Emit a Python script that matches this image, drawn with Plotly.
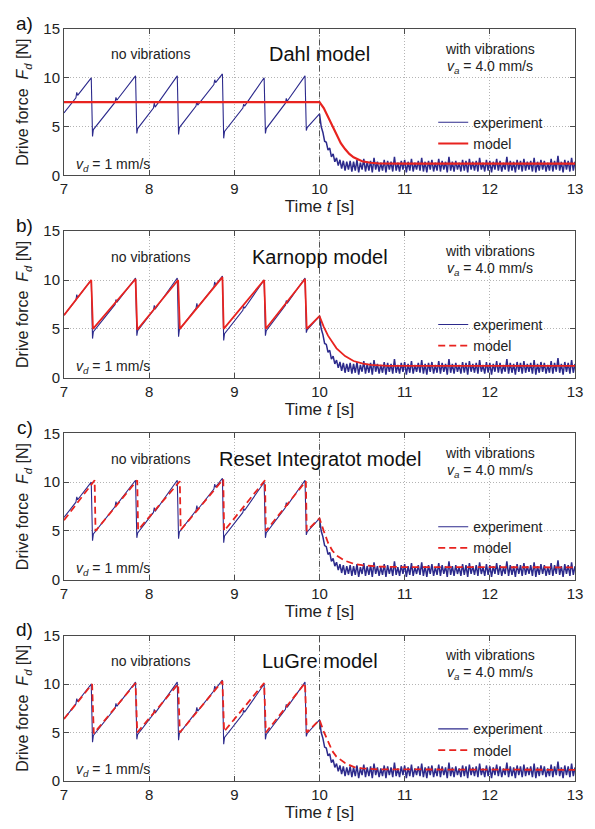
import plotly.graph_objects as go
from plotly.subplots import make_subplots

# measured drive force, sawtooth part (stick-slip, no vibrations)
exp_saw_t = [7.00, 7.14, 7.15, 7.16, 7.32, 7.335, 7.345, 7.60, 7.61, 7.62, 7.84, 7.855, 7.865,
             8.05, 8.06, 8.07, 8.33, 8.345, 8.355, 8.55, 8.56, 8.57, 8.76, 8.77, 8.78, 8.86,
             8.875, 8.885, 9.10, 9.11, 9.12, 9.35, 9.365, 9.375, 9.60, 9.61, 9.62, 9.83,
             9.845, 9.855, 10.00]
exp_saw_f = [6.4, 7.95, 8.5, 8.2, 10.0, 4.0, 4.7, 7.5, 8.0, 7.7, 10.2, 4.3, 4.8,
             6.9, 7.4, 7.0, 10.2, 4.2, 4.9, 7.1, 7.6, 7.2, 9.3, 9.8, 9.5, 10.4,
             3.8, 4.5, 6.9, 7.3, 7.1, 10.0, 4.3, 4.8, 7.4, 7.9, 7.6, 10.2,
             4.6, 4.9, 6.3]

# measured drive force with vibrations, sampled every 0.02 s from 10.00 s
exp_tail_f = [
    6.3, 5.0, 4.4, 3.5, 3.4, 2.6, 2.8, 1.9, 2.2, 1.4,
    1.8, 1.0, 1.6, 0.7, 1.5, 0.5, 1.4, 0.6, 1.5, 0.4,
    1.4, 0.5, 1.6, 0.3, 1.3, 0.6, 1.7, 0.4, 1.4, 0.5,
    1.5, 0.3, 1.8, 0.6, 1.4, 0.4, 1.3, 0.5, 1.6, 0.3,
    1.5, 0.6, 1.4, 0.4, 1.9, 0.5, 1.3, 0.4, 1.5, 0.6,
    1.6, 0.3, 1.4, 0.5, 1.7, 0.4, 1.3, 0.6, 1.5, 0.5,
    1.8, 0.4, 1.4, 0.3, 1.5, 0.6, 1.6, 0.4, 1.3, 0.5,
    1.7, 0.4, 1.5, 0.6, 1.4, 0.3, 1.9, 0.5, 1.4, 0.4,
    1.5, 0.6, 1.3, 0.4, 1.6, 0.5, 1.5, 0.3, 1.7, 0.6,
    1.4, 0.5, 1.5, 0.4, 1.8, 0.6, 1.3, 0.4, 1.6, 0.5,
    1.5, 0.3, 1.4, 0.6, 1.7, 0.5, 1.5, 0.4, 1.3, 0.6,
    1.9, 0.4, 1.5, 0.5, 1.4, 0.3, 1.6, 0.6, 1.5, 0.4,
    1.7, 0.5, 1.4, 0.6, 1.5, 0.4, 1.8, 0.3, 1.4, 0.5,
    1.6, 0.6, 1.5, 0.4, 1.3, 0.5, 1.7, 0.4, 1.5, 0.6,
    2.0, 0.5, 1.4, 0.3, 1.6, 0.6, 1.5, 0.4, 1.8, 0.5,
    1.4]
exp_tail_t = [round(10.00 + 0.02 * i, 2) for i in range(len(exp_tail_f))]

# model curves
dahl_t = [7.0, 10.0, 10.05, 10.1, 10.15, 10.2, 10.25, 10.3, 10.35, 10.4, 10.5, 10.6, 10.7, 11.0, 13.0]
dahl_f = [7.5, 7.5, 6.9, 6.0, 5.0, 4.1, 3.3, 2.7, 2.2, 1.85, 1.45, 1.3, 1.22, 1.2, 1.2]

karnopp_t = [7.0, 7.32, 7.34, 7.84, 7.86, 8.34, 8.36, 8.86, 8.875, 9.35, 9.37, 9.83, 9.85, 10.0,
             10.05, 10.1, 10.2, 10.3, 10.4, 10.5, 10.6, 10.8, 13.0]
karnopp_f = [6.4, 10.0, 5.0, 10.1, 4.9, 10.0, 5.0, 10.3, 5.0, 10.0, 5.0, 10.1, 5.0, 6.3,
             5.2, 4.3, 3.0, 2.2, 1.7, 1.45, 1.3, 1.2, 1.2]

reset_t = [7.0, 7.36, 7.37, 7.86, 7.87, 8.36, 8.37, 8.87, 8.88, 9.36, 9.37, 9.84, 9.85, 10.0,
           10.05, 10.1, 10.15, 10.2, 10.3, 10.4, 10.5, 10.7, 11.0, 13.0]
reset_f = [6.1, 10.2, 5.0, 10.2, 5.1, 10.1, 5.1, 10.3, 5.0, 10.2, 5.0, 10.1, 5.0, 6.3,
           5.0, 3.8, 3.0, 2.5, 1.95, 1.65, 1.5, 1.35, 1.3, 1.28]

lugre_t = [7.0, 7.33, 7.35, 7.84, 7.86, 8.34, 8.36, 8.86, 8.88, 9.35, 9.37, 9.83, 9.85, 10.0,
           10.05, 10.1, 10.15, 10.2, 10.3, 10.4, 10.5, 10.7, 13.0]
lugre_f = [6.4, 10.0, 4.9, 10.1, 5.0, 10.0, 5.0, 10.3, 5.1, 10.1, 5.0, 10.1, 5.0, 6.3,
           5.1, 4.0, 3.1, 2.5, 1.85, 1.45, 1.3, 1.2, 1.15]

panel_labels = ["a)", "b)", "c)", "d)"]
model_names = ["Dahl model", "Karnopp model", "Reset Integratot model", "LuGre model"]
models = [(dahl_t, dahl_f), (karnopp_t, karnopp_f), (reset_t, reset_f), (lugre_t, lugre_f)]
plot_dash = ["solid", "solid", "7px,4px", "7px,4px"]
legend_dash = ["solid", "7px,4px", "7px,4px", "7px,4px"]

FONT = "Liberation Sans, Arial, sans-serif"
BLUE = "#2c2a8c"
RED = "#e8231f"
AXC = "#4a4a4a"

fig = make_subplots(rows=4, cols=1)

# panel domains measured in pixels (top, bottom) on a 829 px tall page
W, H = 595, 829
ML, MR, MT, MB = 64, 12, 29, 45
panel_px = [(29, 176), (232, 379), (435, 582), (638, 784)]
plot_h = H - MT - MB

for i in range(4):
    r = i + 1
    leg = "legend" if i == 0 else f"legend{r}"
    fig.add_trace(go.Scatter(x=exp_saw_t, y=exp_saw_f, mode="lines", name="experiment",
                             line=dict(color=BLUE, width=1.1), legendgroup="exp",
                             legend=leg), row=r, col=1)
    fig.add_trace(go.Scatter(x=exp_tail_t, y=exp_tail_f, mode="lines", name="experiment",
                             line=dict(color=BLUE, width=1.5, simplify=False),
                             legendgroup="exp", showlegend=False, legend=leg), row=r, col=1)
    mt, mf = models[i]
    same = plot_dash[i] == legend_dash[i]
    fig.add_trace(go.Scatter(x=mt, y=mf, mode="lines", name="model",
                             line=dict(color=RED, width=2.2 if i == 0 else 1.8, dash=plot_dash[i]),
                             showlegend=same, legend=leg), row=r, col=1)
    if not same:
        # panel b: legend shows a dashed sample although the curve is drawn solid
        fig.add_trace(go.Scatter(x=[None], y=[None], mode="lines", name="model",
                                 line=dict(color=RED, width=1.8, dash=legend_dash[i]),
                                 legend=leg), row=r, col=1)

    top, bot = panel_px[i]
    y0 = (H - MB - bot) / plot_h
    y1 = (H - MB - top) / plot_h
    fig.update_yaxes(domain=[y0, y1], row=r, col=1)

    fig.update_layout({leg: dict(x=(439 - ML) / (W - ML - MR), y=(H - MB - (top + 78)) / plot_h,
                                 xanchor="left", yanchor="top", bgcolor="rgba(0,0,0,0)",
                                 font=dict(family=FONT, size=14, color="#222"),
                                 tracegroupgap=0)})

    xr = "x" if i == 0 else f"x{r}"
    yr = "y" if i == 0 else f"y{r}"
    fig.add_vline(x=10, line=dict(color="#555", width=1, dash="6px,3px,1px,3px"), row=r, col=1)
    txt = dict(xref=xr, yref=yr, showarrow=False, font=dict(family=FONT, size=14, color="#222"))
    fig.add_annotation(x=8.02, y=12.4, text="no vibrations", **txt)
    fig.add_annotation(x=12.0, y=13.0, text="with vibrations", **txt)
    fig.add_annotation(x=12.0, y=11.1, text="<i>v<sub>a</sub></i> = 4.0 mm/s", **txt)
    fig.add_annotation(x=7.12, y=1.1, text="<i>v<sub>d</sub></i> = 1 mm/s", xanchor="left", **txt)
    fig.add_annotation(x=10.0, y=12.4, text=model_names[i], xref=xr, yref=yr, showarrow=False,
                       font=dict(family=FONT, size=20, color="#111"))
    fig.add_annotation(x=-0.077, y=1.04, xref=f"{xr} domain", yref=f"{yr} domain",
                       xanchor="center", yanchor="middle",
                       text=panel_labels[i], showarrow=False,
                       font=dict(family=FONT, size=19, color="#111"))

fig.update_xaxes(range=[7, 13], tick0=7, dtick=1, showgrid=True, gridcolor="#b4b4b4",
                 griddash="1px,2px", gridwidth=1, zeroline=False, showline=True, linecolor=AXC,
                 linewidth=1, mirror="ticks", ticks="inside", ticklen=5, tickcolor=AXC,
                 tickfont=dict(family=FONT, size=15, color="#222"),
                 title=dict(text="Time <i>t</i> [s]", standoff=2,
                            font=dict(family=FONT, size=17, color="#222")))
fig.update_yaxes(range=[0, 15], tick0=0, dtick=5, showgrid=True, gridcolor="#b4b4b4",
                 griddash="1px,2px", gridwidth=1, zeroline=False, showline=True, linecolor=AXC,
                 linewidth=1, mirror="ticks", ticks="inside", ticklen=5, tickcolor=AXC,
                 tickfont=dict(family=FONT, size=15, color="#222"),
                 title=dict(text="Drive force  <i>F<sub>d</sub></i> [N]", standoff=10,
                            font=dict(family=FONT, size=16, color="#222")))

fig.update_layout(width=W, height=H, margin=dict(l=ML, r=MR, t=MT, b=MB),
                  plot_bgcolor="white", paper_bgcolor="white", showlegend=True)

fig.write_html("out.html", config={"displayModeBar": False},
               post_script="document.body.style.margin='0px';")
